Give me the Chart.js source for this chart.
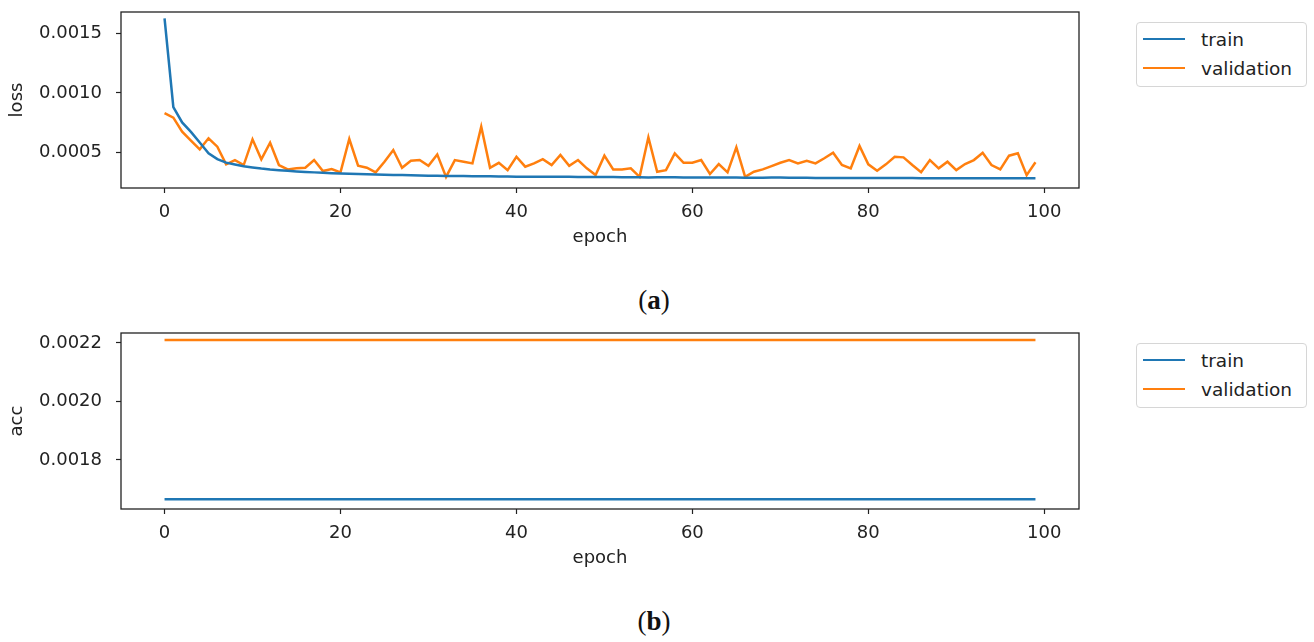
<!DOCTYPE html>
<html>
<head>
<meta charset="utf-8">
<script src="https://cdn.jsdelivr.net/npm/chart.js@4/dist/chart.umd.min.js"></script>
<style>
  body { margin: 0; background: #fff; width: 1314px; height: 642px; position: relative; overflow: hidden; font-family: "DejaVu Sans", sans-serif; }
  .panel { position: absolute; left: 0; width: 1100px; height: 260px; }
  .legend { position: absolute; left: 1136px; width: 169px; height: 63px; border: 1px solid #d6d6d6; border-radius: 4px; background: #fff; }
  .legend .item { position: absolute; left: 0; width: 169px; height: 20px; }
  .legend .swatch { position: absolute; left: 6px; top: 8px; width: 42px; height: 0; border-top: 2.5px solid; }
  .legend .label { position: absolute; left: 64px; top: 0; font-size: 18.5px; line-height: 20px; color: #222; white-space: nowrap; }
  .caption { position: absolute; left: 604px; width: 100px; text-align: center; font-family: "Liberation Serif", serif; font-size: 27px; line-height: 27px; color: #111; }
</style>
</head>
<body>
<div class="panel" style="top:0"><canvas id="lossChart" width="1100" height="260"></canvas></div>
<div class="panel" style="top:321px"><canvas id="accChart" width="1100" height="260"></canvas></div>

<div class="legend" style="top:22px">
  <div class="item" style="top:7px"><div class="swatch" style="border-color:#1f77b4"></div><div class="label">train</div></div>
  <div class="item" style="top:36px"><div class="swatch" style="border-color:#ff7f0e"></div><div class="label">validation</div></div>
</div>
<div class="legend" style="top:343px">
  <div class="item" style="top:7px"><div class="swatch" style="border-color:#1f77b4"></div><div class="label">train</div></div>
  <div class="item" style="top:36px"><div class="swatch" style="border-color:#ff7f0e"></div><div class="label">validation</div></div>
</div>

<div class="caption" style="top:287px">(<b>a</b>)</div>
<div class="caption" style="top:608px">(<b>b</b>)</div>

<script>
// loss per epoch (panel a)
const lossTrain = [
  0.00163, 0.00088, 0.00075, 0.00067, 0.00058, 0.00049, 0.00044, 0.00041, 0.000395, 0.00038,
  0.00037, 0.00036, 0.000352, 0.000346, 0.000341, 0.000336, 0.000332, 0.000328, 0.000325, 0.000321,
  0.000318, 0.000316, 0.000314, 0.000312, 0.00031, 0.000308, 0.000306, 0.000305, 0.000303, 0.000302,
  0.0003, 0.000299, 0.000297, 0.000298, 0.000297, 0.000296, 0.000296, 0.000295, 0.000294, 0.000293,
  0.000292, 0.000292, 0.000291, 0.000291, 0.000291, 0.00029, 0.00029, 0.000289, 0.000289, 0.000288,
  0.000288, 0.000288, 0.000287, 0.000287, 0.000286, 0.000285, 0.000286, 0.000287, 0.000286, 0.000285,
  0.000285, 0.000285, 0.000284, 0.000284, 0.000284, 0.000284, 0.000283, 0.000283, 0.000283, 0.000284,
  0.000284, 0.000283, 0.000282, 0.000282, 0.000281, 0.000281, 0.000281, 0.00028, 0.000281, 0.00028,
  0.00028, 0.00028, 0.00028, 0.00028, 0.000281, 0.00028, 0.000279, 0.000279, 0.000279, 0.000279,
  0.000279, 0.000278, 0.000278, 0.000278, 0.000278, 0.000278, 0.000278, 0.000278, 0.000278, 0.000278
];
const lossVal = [
  0.000828, 0.00079, 0.000672, 0.000596, 0.000523, 0.000616, 0.000545, 0.000396, 0.000432, 0.00039,
  0.000607, 0.000438, 0.000579, 0.00039, 0.000353, 0.000362, 0.000367, 0.000432, 0.000339, 0.000356,
  0.000328, 0.00061, 0.000384, 0.000367, 0.000328, 0.000418, 0.000517, 0.000367, 0.000426, 0.000432,
  0.000384, 0.00048, 0.00029, 0.000432, 0.000418, 0.000404, 0.000714, 0.000367, 0.000409, 0.000347,
  0.00046, 0.000376, 0.000404, 0.00044, 0.00039, 0.000475, 0.000384, 0.000432, 0.000362, 0.000305,
  0.000469, 0.000353, 0.000353, 0.000362, 0.00029, 0.000624, 0.000333, 0.000347, 0.000489, 0.000409,
  0.000409, 0.000432, 0.000314, 0.000398, 0.000328, 0.00054, 0.00029, 0.000333, 0.000353, 0.000381,
  0.000409, 0.000432, 0.000404, 0.000426, 0.000404, 0.000447, 0.000494, 0.00039, 0.000362, 0.000551,
  0.000396, 0.000342, 0.000396, 0.00046, 0.000455, 0.00039, 0.00033, 0.000432, 0.000362, 0.000418,
  0.000347, 0.000398, 0.000432, 0.000494, 0.00039, 0.000353, 0.000469, 0.000489, 0.000305, 0.000413
];

// accuracy per epoch (panel b), flat in the picture
const accTrain = [
  0.001665, 0.001665, 0.001665, 0.001665, 0.001665, 0.001665, 0.001665, 0.001665, 0.001665, 0.001665,
  0.001665, 0.001665, 0.001665, 0.001665, 0.001665, 0.001665, 0.001665, 0.001665, 0.001665, 0.001665,
  0.001665, 0.001665, 0.001665, 0.001665, 0.001665, 0.001665, 0.001665, 0.001665, 0.001665, 0.001665,
  0.001665, 0.001665, 0.001665, 0.001665, 0.001665, 0.001665, 0.001665, 0.001665, 0.001665, 0.001665,
  0.001665, 0.001665, 0.001665, 0.001665, 0.001665, 0.001665, 0.001665, 0.001665, 0.001665, 0.001665,
  0.001665, 0.001665, 0.001665, 0.001665, 0.001665, 0.001665, 0.001665, 0.001665, 0.001665, 0.001665,
  0.001665, 0.001665, 0.001665, 0.001665, 0.001665, 0.001665, 0.001665, 0.001665, 0.001665, 0.001665,
  0.001665, 0.001665, 0.001665, 0.001665, 0.001665, 0.001665, 0.001665, 0.001665, 0.001665, 0.001665,
  0.001665, 0.001665, 0.001665, 0.001665, 0.001665, 0.001665, 0.001665, 0.001665, 0.001665, 0.001665,
  0.001665, 0.001665, 0.001665, 0.001665, 0.001665, 0.001665, 0.001665, 0.001665, 0.001665, 0.001665
];
const accVal = [
  0.00221, 0.00221, 0.00221, 0.00221, 0.00221, 0.00221, 0.00221, 0.00221, 0.00221, 0.00221,
  0.00221, 0.00221, 0.00221, 0.00221, 0.00221, 0.00221, 0.00221, 0.00221, 0.00221, 0.00221,
  0.00221, 0.00221, 0.00221, 0.00221, 0.00221, 0.00221, 0.00221, 0.00221, 0.00221, 0.00221,
  0.00221, 0.00221, 0.00221, 0.00221, 0.00221, 0.00221, 0.00221, 0.00221, 0.00221, 0.00221,
  0.00221, 0.00221, 0.00221, 0.00221, 0.00221, 0.00221, 0.00221, 0.00221, 0.00221, 0.00221,
  0.00221, 0.00221, 0.00221, 0.00221, 0.00221, 0.00221, 0.00221, 0.00221, 0.00221, 0.00221,
  0.00221, 0.00221, 0.00221, 0.00221, 0.00221, 0.00221, 0.00221, 0.00221, 0.00221, 0.00221,
  0.00221, 0.00221, 0.00221, 0.00221, 0.00221, 0.00221, 0.00221, 0.00221, 0.00221, 0.00221,
  0.00221, 0.00221, 0.00221, 0.00221, 0.00221, 0.00221, 0.00221, 0.00221, 0.00221, 0.00221,
  0.00221, 0.00221, 0.00221, 0.00221, 0.00221, 0.00221, 0.00221, 0.00221, 0.00221, 0.00221
];

const epochs = lossTrain.map((v, i) => i);
const xTicks = [0, 20, 40, 60, 80, 100];
const lossTicks = [0.0005, 0.0010, 0.0015];
const accTicks = [0.0018, 0.0020, 0.0022];

const BLUE = '#1f77b4';
const ORANGE = '#ff7f0e';
const INK = '#222';

// matplotlib style box round the plot area
const frame = {
  id: 'frame',
  afterDatasetsDraw(chart) {
    const a = chart.chartArea, c = chart.ctx;
    c.save();
    c.strokeStyle = INK;
    c.lineWidth = 1.3;
    c.strokeRect(a.left, a.top, a.right - a.left, a.bottom - a.top);
    c.restore();
  }
};

function makeChart(id, yTitle, train, val, yMin, yMax, yTicks) {
  const ctx = document.getElementById(id).getContext('2d');
  return new Chart(ctx, {
    type: 'line',
    data: {
      datasets: [
        { label: 'train', data: epochs.map((e, i) => ({ x: e, y: train[i] })), borderColor: BLUE, borderWidth: 2.5 },
        { label: 'validation', data: epochs.map((e, i) => ({ x: e, y: val[i] })), borderColor: ORANGE, borderWidth: 2.5 }
      ]
    },
    options: {
      responsive: false,
      animation: false,
      events: [],
      layout: { padding: { left: 0, top: 12, right: 21, bottom: 0 } },
      elements: { point: { radius: 0 }, line: { tension: 0, borderCapStyle: 'butt' } },
      plugins: { legend: { display: false }, tooltip: { enabled: false } },
      scales: {
        x: {
          type: 'linear',
          min: -4.95,
          max: 103.95,
          afterBuildTicks: s => { s.ticks = xTicks.map(v => ({ value: v })); },
          afterFit: s => { s.height = 72; s.paddingLeft = 0; s.paddingRight = 0; },
          grid: { drawOnChartArea: false, drawTicks: true, tickLength: 5, tickWidth: 1.2, tickColor: INK },
          border: { display: false },
          ticks: { color: INK, padding: 9, font: { family: 'DejaVu Sans', size: 18 }, maxRotation: 0 },
          title: { display: true, text: 'epoch', color: INK, padding: { top: 0, bottom: 12 }, font: { family: 'DejaVu Sans', size: 18 } }
        },
        y: {
          min: yMin,
          max: yMax,
          afterBuildTicks: s => { s.ticks = yTicks.map(v => ({ value: v })); },
          afterFit: s => { s.width = 121; s.paddingTop = 0; s.paddingBottom = 0; },
          grid: { drawOnChartArea: false, drawTicks: true, tickLength: 5, tickWidth: 1.2, tickColor: INK },
          border: { display: false },
          ticks: { color: INK, padding: 14, font: { family: 'DejaVu Sans', size: 18 }, callback: v => v.toFixed(4) },
          title: { display: true, text: yTitle, color: INK, padding: { top: 7, bottom: 0 }, font: { family: 'DejaVu Sans', size: 18 } }
        }
      }
    },
    plugins: [frame]
  });
}

makeChart('lossChart', 'loss', lossTrain, lossVal, 0.000196, 0.001683, lossTicks);
makeChart('accChart', 'acc', accTrain, accVal, 0.001632, 0.002234, accTicks);
</script>
</body>
</html>
